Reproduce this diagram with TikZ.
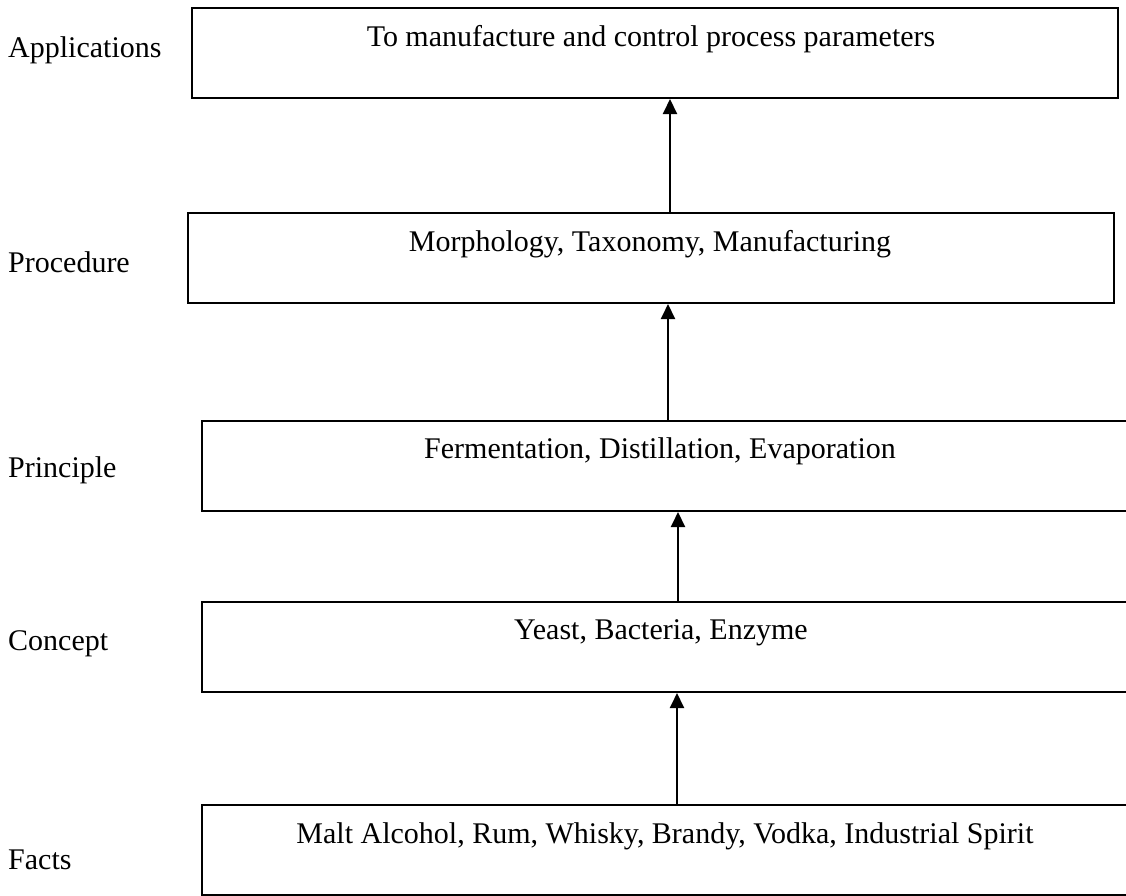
\documentclass[tikz,border=0pt]{standalone}
\usepackage{fontspec}
\setmainfont{Liberation Serif}
\usetikzlibrary{arrows.meta}
\begin{document}
\begin{tikzpicture}[x=1pt,y=-1pt,
  box/.style={draw=black, line width=2pt, inner sep=0pt, fill=white},
  txt/.style={inner sep=0pt, anchor=base, font=\fontsize{30}{36}\selectfont},
  lab/.style={inner sep=0pt, anchor=base west, font=\fontsize{30}{36}\selectfont},
  arr/.style={line width=2pt, -{Triangle[length=15pt,width=14pt]}}]
\useasboundingbox (0,0) rectangle (1126,895);
% boxes
\node[box, minimum width=926pt, minimum height=90pt] (b1) at (655,53) {};
\node[box, minimum width=926pt, minimum height=90pt] (b2) at (651,258) {};
\node[box, minimum width=935pt, minimum height=90pt, anchor=north west] (b3) at (201,420) {};
\node[box, minimum width=935pt, minimum height=90pt, anchor=north west] (b4) at (201,601) {};
\node[box, minimum width=935pt, minimum height=90pt, anchor=north west] (b5) at (201,804) {};
% box texts
\node[txt] (t1) at (651,46) {To manufacture and control process parameters};
\node[txt] (t2) at (650,251) {Morphology, Taxonomy, Manufacturing};
\node[txt] (t3) at (660,458) {Fermentation, Distillation, Evaporation};
\node[txt] (t4) at (661,639) {Yeast, Bacteria, Enzyme};
\node[txt] (t5) at (665,843) {Malt Alcohol, Rum, Whisky, Brandy, Vodka, Industrial Spirit};
% side labels
\node[lab] (l1) at (8,57) {Applications};
\node[lab] (l2) at (8,272) {Procedure};
\node[lab] (l3) at (8,477) {Principle};
\node[lab] (l4) at (8,650) {Concept};
\node[lab] (l5) at (8,869) {Facts};
% arrows
\coordinate (x1) at (670,0);
\coordinate (x2) at (668,0);
\coordinate (x3) at (678,0);
\coordinate (x4) at (677,0);
\draw[arr] (b2.north -| x1) -- (b1.south -| x1);
\draw[arr] (b3.north -| x2) -- (b2.south -| x2);
\draw[arr] (b4.north -| x3) -- (b3.south -| x3);
\draw[arr] (b5.north -| x4) -- (b4.south -| x4);
\end{tikzpicture}
\end{document}
